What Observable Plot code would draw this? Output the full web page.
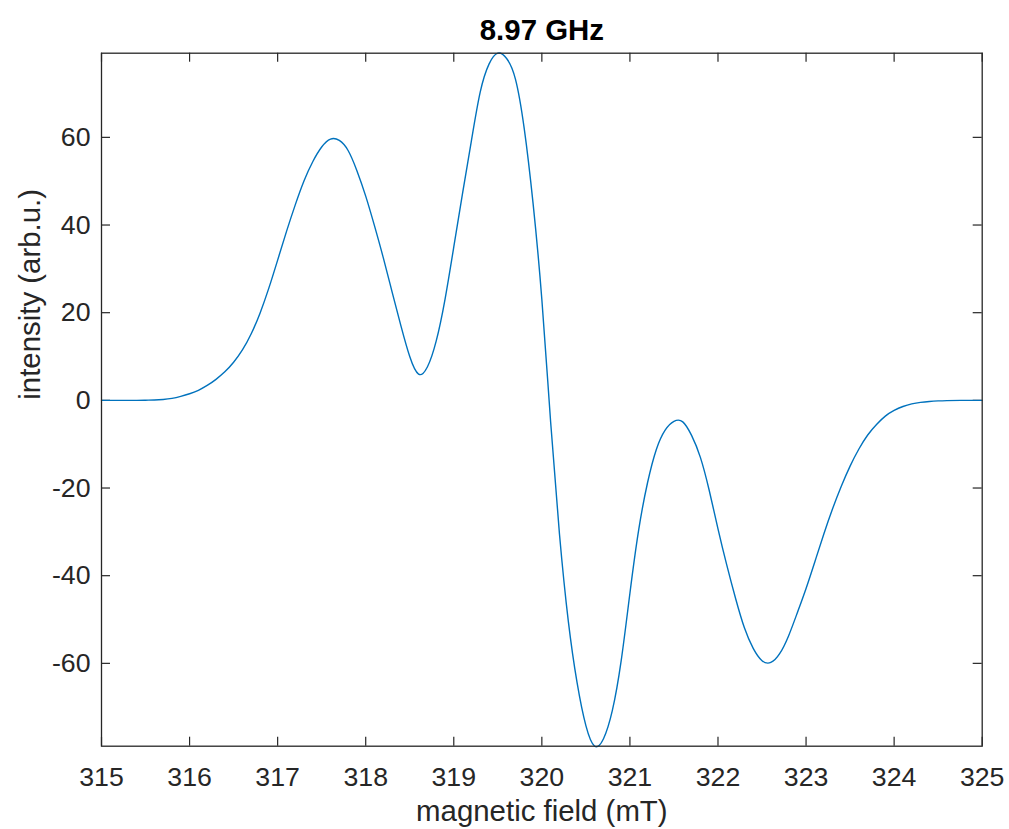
<!DOCTYPE html>
<html>
<head>
<meta charset="utf-8">
<script src="https://cdn.jsdelivr.net/npm/d3@7"></script>
<script src="https://cdn.jsdelivr.net/npm/@observablehq/plot@0.6"></script>
<style>
  html, body { margin: 0; padding: 0; background: #fff; }
  #chart svg { display: block; background: #fff; }
</style>
</head>
<body>
<div id="chart"></div>
<script>
const titleText = "8.97 GHz";
const xLabel = "magnetic field (mT)";
const yLabel = "intensity (arb.u.)";
const xTicks = [315, 316, 317, 318, 319, 320, 321, 322, 323, 324, 325];
const yTicks = [-60, -40, -20, 0, 20, 40, 60];
const xDomain = [315, 325];
const yDomain = [-78.9, 79.2];

const field = [
  315.0, 315.4, 315.5, 315.6, 315.7, 315.8, 315.9, 316.0, 316.1, 316.2,
  316.3, 316.4, 316.5, 316.6, 316.7, 316.8, 316.9, 317.0, 317.1, 317.2,
  317.3, 317.4, 317.5, 317.6, 317.7, 317.8, 317.9, 318.0, 318.1, 318.2,
  318.3, 318.4, 318.5, 318.6, 318.7, 318.8, 318.9, 319.0, 319.1, 319.2,
  319.3, 319.4, 319.5, 319.6, 319.7, 319.8, 319.9, 320.0, 320.1, 320.2,
  320.3, 320.4, 320.5, 320.6, 320.7, 320.8, 320.9, 321.0, 321.1, 321.2,
  321.3, 321.4, 321.5, 321.6, 321.7, 321.8, 321.9, 322.0, 322.1, 322.2,
  322.3, 322.4, 322.5, 322.6, 322.7, 322.8, 322.9, 323.0, 323.1, 323.2,
  323.3, 323.4, 323.5, 323.6, 323.7, 323.8, 323.9, 324.0, 324.1, 324.2,
  324.3, 324.4, 324.5, 324.6, 324.8, 325.0
];
const intensity = [
  0, 0, 0.03, 0.08, 0.2, 0.45, 0.9, 1.5, 2.3, 3.4,
  4.8, 6.5, 8.7, 11.5, 15.2, 19.9, 25.6, 32.0, 38.5, 44.6,
  50.1, 54.5, 57.8, 59.6, 59.3, 57.0, 52.4, 46.6, 39.8, 32.5,
  24.7, 17.0, 10.0, 6.0, 7.6, 13.5, 23.0, 35.0, 47.3, 59.2,
  70.3, 76.7, 79.2, 78.0, 73.3, 62.0, 45.0, 23.0, -5.0, -30.5,
  -50.3, -64.4, -74.2, -78.9, -77.2, -70.8, -59.5, -44.0, -29.5, -18.8,
  -11.2, -6.8, -4.8, -4.9, -8.0, -13.0, -20.5, -29.3, -37.6, -45.2,
  -51.9, -56.6, -59.4, -59.8, -57.8, -53.8, -48.5, -42.9, -36.8, -30.6,
  -24.8, -19.6, -15.0, -11.1, -7.9, -5.5, -3.6, -2.3, -1.4, -0.8,
  -0.45, -0.25, -0.12, -0.05, 0, 0
];

const data = field.map((f, i) => ({field: f, intensity: intensity[i]}));

const W = 1009, H = 829;
const mL = 101, mR = 27.3, mT = 52.7, mB = 83.3;
const innerW = W - mL - mR, innerH = H - mT - mB;
const tickLen = 9;
const ink = "#262626";
const font = "'Liberation Sans', Arial, Helvetica, sans-serif";
const fmt = d => String(d);

const chart = Plot.plot({
  width: W,
  height: H,
  marginLeft: mL,
  marginRight: mR,
  marginTop: mT,
  marginBottom: mB,
  style: {fontFamily: font, color: ink, background: "#fff", overflow: "visible"},
  x: {domain: xDomain, ticks: xTicks},
  y: {domain: yDomain, ticks: yTicks},
  marks: [
    Plot.axisX(xTicks, {tickSize: 0, tickPadding: 21, fontSize: 26.7, fill: ink, label: null, tickFormat: fmt}),
    Plot.axisY(yTicks, {tickSize: 0, tickPadding: 11, fontSize: 26.7, fill: ink, label: null, tickFormat: fmt}),
    // inward ticks on all four sides
    Plot.ruleX(xTicks, {stroke: ink, strokeWidth: 1.2, insetTop: innerH - tickLen}),
    Plot.ruleX(xTicks, {stroke: ink, strokeWidth: 1.2, insetBottom: innerH - tickLen}),
    Plot.ruleY(yTicks, {stroke: ink, strokeWidth: 1.2, insetRight: innerW - tickLen}),
    Plot.ruleY(yTicks, {stroke: ink, strokeWidth: 1.2, insetLeft: innerW - tickLen}),
    Plot.line(data, {x: "field", y: "intensity", stroke: "#0072BD", strokeWidth: 1.4, curve: "natural"}),
    Plot.frame({stroke: ink, strokeWidth: 1.3}),
    Plot.text([titleText], {frameAnchor: "top", dy: -13.4, lineAnchor: "bottom", fontSize: 29.4, fontWeight: "bold", fill: "#000"}),
    Plot.text([xLabel], {frameAnchor: "bottom", dy: 74.3, lineAnchor: "bottom", fontSize: 29.4, fill: ink}),
    Plot.text([yLabel], {frameAnchor: "left", dx: -61.5, rotate: -90, lineAnchor: "bottom", fontSize: 29.4, fill: ink})
  ]
});

document.getElementById("chart").appendChild(chart);
</script>
</body>
</html>
